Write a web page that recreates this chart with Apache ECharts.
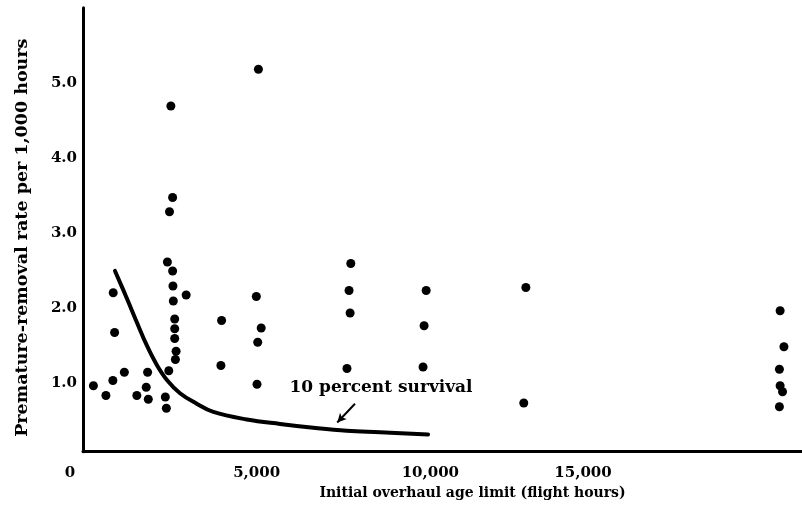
<!DOCTYPE html>
<html>
<head>
<meta charset="utf-8">
<script src="https://cdn.jsdelivr.net/npm/echarts@6/dist/echarts.min.js"></script>
<style>
  html, body { margin: 0; padding: 0; background: #fff; }
  #chart { width: 802px; height: 513px; }
</style>
</head>
<body>
<div id="chart"></div>
<script>
// Each engine type: initial overhaul age limit (flight hours) and its premature-removal rate
const limitHours = [
  300, 660, 860, 1190, 870, 910, 1860, 1820, 1550, 1880,
  2370, 2400, 2470, 2430, 2580, 2590, 2600, 2640, 2640, 2640,
  2680, 2660, 2970, 2580, 2490, 2530, 3990, 3970, 4990, 5130,
  5030, 5010, 5050, 7710, 7660, 7690, 7600, 9880, 9820, 9790,
  12750, 12690, 20070, 20180, 20050, 20070, 20140, 20050
];
const removalRate = [
  0.96, 0.83, 1.03, 1.14, 2.20, 1.67, 1.14, 0.94, 0.83, 0.78,
  0.81, 0.66, 1.16, 2.61, 2.49, 2.29, 2.09, 1.85, 1.72, 1.59,
  1.42, 1.31, 2.17, 3.47, 3.28, 4.69, 1.83, 1.23, 2.15, 1.73,
  1.54, 0.98, 5.18, 2.59, 2.23, 1.93, 1.19, 2.23, 1.76, 1.21,
  2.27, 0.73, 1.96, 1.48, 1.18, 0.96, 0.88, 0.68
];

// Removal rate at which 10 percent of units survive to the age limit
const survivalHours = [921, 1258, 1546, 1834, 2122, 2410, 2793, 3274, 3752, 4714, 5672, 6631, 7593, 8552, 9934];
const survivalRate  = [2.49, 2.13, 1.81, 1.50, 1.24, 1.04, 0.86, 0.72, 0.61, 0.51, 0.45, 0.40, 0.36, 0.34, 0.31];

// Axis ticks
const xTickValues = [0, 5000, 10000, 15000];
const xTickLabels = ['0', '5,000', '10,000', '15,000'];
const yTickValues = [1, 2, 3, 4, 5];
const yTickLabels = ['1.0', '2.0', '3.0', '4.0', '5.0'];

// Curve annotation
const curveLabel = '10 percent survival';
const curveLabelAt = [8580, 0.93];
const arrowFrom = [7830, 0.72];
const arrowTo = [7320, 0.47];

const FONT = '"DejaVu Serif", "Liberation Serif", serif';
const INK = '#000000';

const chart = echarts.init(document.getElementById('chart'), null, { renderer: 'canvas' });

const boldText = (size) => ({ fontFamily: FONT, fontWeight: 'bold', fontSize: size, color: INK });

chart.setOption({
  animation: false,
  backgroundColor: '#ffffff',
  grid: { left: 83, right: 0, top: 7.7, bottom: 61.3, containLabel: false },
  xAxis: {
    type: 'value',
    min: 0,
    max: 20700,
    interval: 5000,
    splitLine: { show: false },
    axisTick: { show: false },
    axisLine: { show: true, lineStyle: { color: INK, width: 3 } },
    axisLabel: Object.assign(boldText(15), {
      margin: 14,
      showMaxLabel: false,
      formatter: (v) => {
        const i = xTickValues.indexOf(v);
        if (i < 0) return '';
        if (v === 0) return '{origin|' + xTickLabels[i] + '}';
        if (v === 15000) return '{shifted|' + xTickLabels[i] + '}';
        return xTickLabels[i];
      },
      rich: {
        origin: Object.assign(boldText(15), { padding: [0, 26, 0, 0] }),
        shifted: Object.assign(boldText(15), { padding: [0, 42, 0, 0] })
      }
    }),
    name: 'Initial overhaul age limit (flight hours)',
    nameLocation: 'middle',
    nameGap: 35,
    nameTextStyle: Object.assign(boldText(14), { padding: [0, 0, 0, 60] })
  },
  yAxis: {
    type: 'value',
    min: 0.08,
    max: 6,
    splitLine: { show: false },
    axisTick: { show: false },
    axisLine: { show: true, lineStyle: { color: INK, width: 3 } },
    axisLabel: Object.assign(boldText(15), {
      margin: 6,
      formatter: (v) => {
        const i = yTickValues.indexOf(v);
        return i < 0 ? '' : yTickLabels[i];
      }
    }),
    name: 'Premature-removal rate per 1,000 hours',
    nameLocation: 'middle',
    nameRotate: 90,
    nameGap: 52,
    nameTextStyle: Object.assign(boldText(17.5), { padding: [0, 16, 0, 0] })
  },
  series: [
    {
      name: 'Engine types',
      type: 'scatter',
      symbol: 'circle',
      symbolSize: 9,
      itemStyle: { color: INK, opacity: 1 },
      data: limitHours.map((h, i) => [h, removalRate[i]]),
      z: 3
    },
    {
      name: '10 percent survival',
      type: 'line',
      smooth: 0.4,
      showSymbol: false,
      symbol: 'none',
      lineStyle: { color: INK, width: 4, cap: 'round', opacity: 1 },
      data: survivalHours.map((h, i) => [h, survivalRate[i]]),
      z: 2
    },
    {
      name: 'Curve label',
      type: 'scatter',
      symbolSize: 0,
      silent: true,
      itemStyle: { opacity: 1 },
      data: [curveLabelAt],
      label: Object.assign(boldText(17), {
        show: true,
        position: 'inside',
        opacity: 1,
        formatter: () => curveLabel
      }),
      markLine: {
        silent: true,
        symbol: ['none', 'arrow'],
        symbolSize: [7, 9],
        label: { show: false },
        lineStyle: { color: INK, width: 2, type: 'solid', opacity: 1 },
        data: [[{ coord: arrowFrom }, { coord: arrowTo }]]
      },
      z: 4
    }
  ]
});
</script>
</body>
</html>
